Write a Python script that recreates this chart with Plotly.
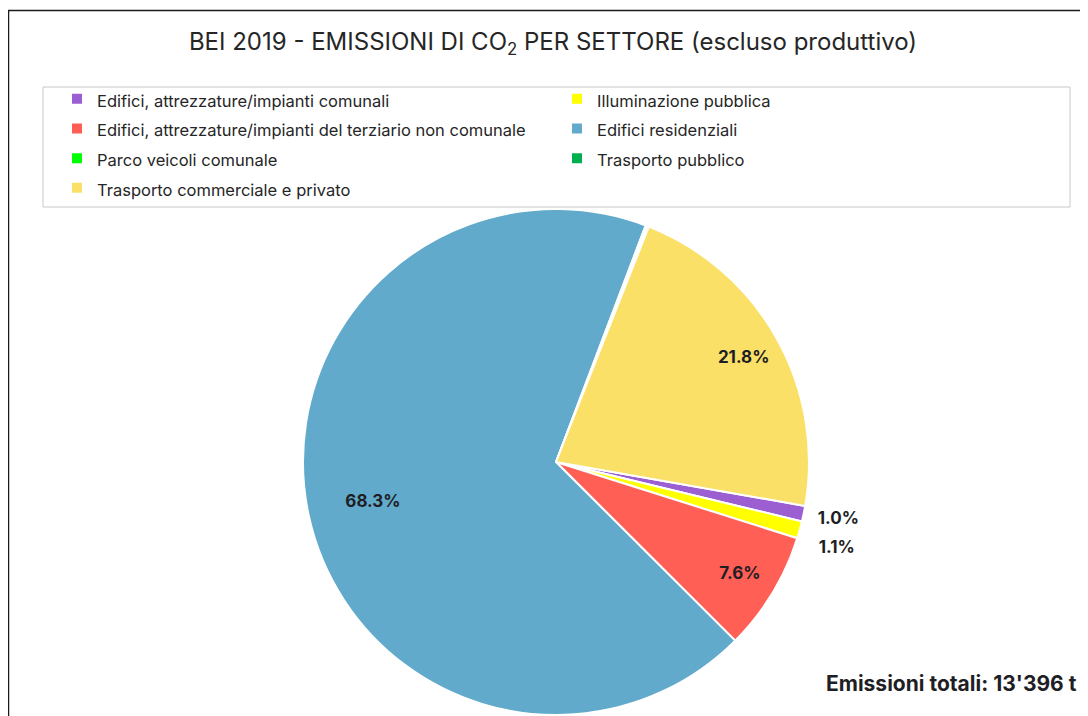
import plotly.graph_objects as go

# sectors in legend order (also the clockwise drawing order)
settori = [
    "Edifici, attrezzature/impianti comunali",
    "Illuminazione pubblica",
    "Edifici, attrezzature/impianti del terziario non comunale",
    "Edifici residenziali",
    "Parco veicoli comunale",
    "Trasporto pubblico",
    "Trasporto commerciale e privato",
]
# tonnes of CO2 (read from the percentages, total 13'396 t)
emissioni_t = [134, 147, 1018, 9149, 14, 14, 2920]
colori = ["#9B5FD1", "#FFFF00", "#FF5F55", "#62AACC", "#00FF00", "#00B050", "#FBE068"]

titolo = "BEI 2019 - EMISSIONI DI CO<sub>2</sub> PER SETTORE (escluso produttivo)"
totale = f"Emissioni totali: {sum(emissioni_t):,} t".replace(",", "'")

W, H = 1088, 716
OFF = 8  # page body margin in the browser


def fx(px):
    return (px - OFF) / W


def fy(py):
    return 1 - (py - OFF) / H


font_main = "Inter, 'Open Sans', sans-serif"
lbl_font = dict(family=font_main, size=17, color="#1e1e24", weight="bold")
CX, CY, R = 556, 462, 253


def dom(cx=CX, cy=CY, r=R):
    return dict(x=[fx(cx - r), fx(cx + r)], y=[fy(cy + r), fy(cy - r)])


def pie_trace(positions, hole=0.0, visible_marks=False, legend=False, domain=None):
    return go.Pie(
        labels=leg_labels,
        values=emissioni_t,
        sort=False,
        direction="clockwise",
        rotation=100,
        hole=hole,
        marker=dict(colors=colori if visible_marks else ["rgba(0,0,0,0)"] * len(settori),
                    line=dict(color="white", width=2 if visible_marks else 0)),
        texttemplate="%{percent:.1%}",
        textposition=positions,
        insidetextorientation="horizontal",
        textfont=lbl_font,
        insidetextfont=lbl_font,
        outsidetextfont=lbl_font,
        automargin=False,
        showlegend=legend,
        hoverinfo="label+value+percent" if visible_marks else "skip",
        domain=domain or dom(),
    )


# smaller visible legend text inside rows sized by the legend font
leg_labels = [f"<span style='font-size:16.5px'>{s}</span>" for s in settori]
N = ["none"] * len(settori)


def only(idx, pos):
    p = list(N)
    for i in idx:
        p[i] = pos
    return p


fig = go.Figure()
# coloured pie
fig.add_trace(pie_trace(N, visible_marks=True, legend=True))
# transparent overlays that only carry labels at Excel-like positions
fig.add_trace(pie_trace(only([3], "inside"), hole=0.48))
fig.add_trace(pie_trace(only([2, 6], "inside"), hole=0.7))
fig.add_trace(pie_trace(only([0], "outside"), domain=dom(CX + 9, CY + 4)))
fig.add_trace(pie_trace(only([1], "outside"), domain=dom(621, 493, 200)))

# outer frame (runs off the right and bottom edges like the crop)
fig.add_shape(type="rect", xref="paper", yref="paper",
              x0=fx(8.5), x1=1.05, y0=-0.05, y1=fy(10.5),
              line=dict(color="#1a1a1a", width=1.5))
# legend frame
fig.add_shape(type="rect", xref="paper", yref="paper",
              x0=fx(43), x1=fx(1070), y0=fy(207), y1=fy(87),
              line=dict(color="#c8c8c8", width=1))

fig.add_annotation(xref="paper", yref="paper", x=fx(824), y=fy(683),
                   xanchor="left", yanchor="middle", showarrow=False,
                   text=f"<b>{totale}</b>",
                   font=dict(family=font_main, size=21, color="#1e1e24"))

fig.update_layout(
    width=W, height=H,
    margin=dict(l=0, r=0, t=0, b=0),
    paper_bgcolor="white",
    plot_bgcolor="white",
    title=dict(text=titolo, x=fx(553), xanchor="center", y=fy(42), yanchor="middle",
               font=dict(family=font_main, size=24, color="#262626")),
    showlegend=True,
    legend=dict(
        orientation="h",
        x=fx(57), xanchor="left",
        y=fy(79), yanchor="top",
        entrywidth=455,
        borderwidth=0,
        bgcolor="rgba(0,0,0,0)",
        font=dict(family=font_main, size=20.5, color="#262626"),
        traceorder="normal",
    ),
)

fig.write_html("out.html")
